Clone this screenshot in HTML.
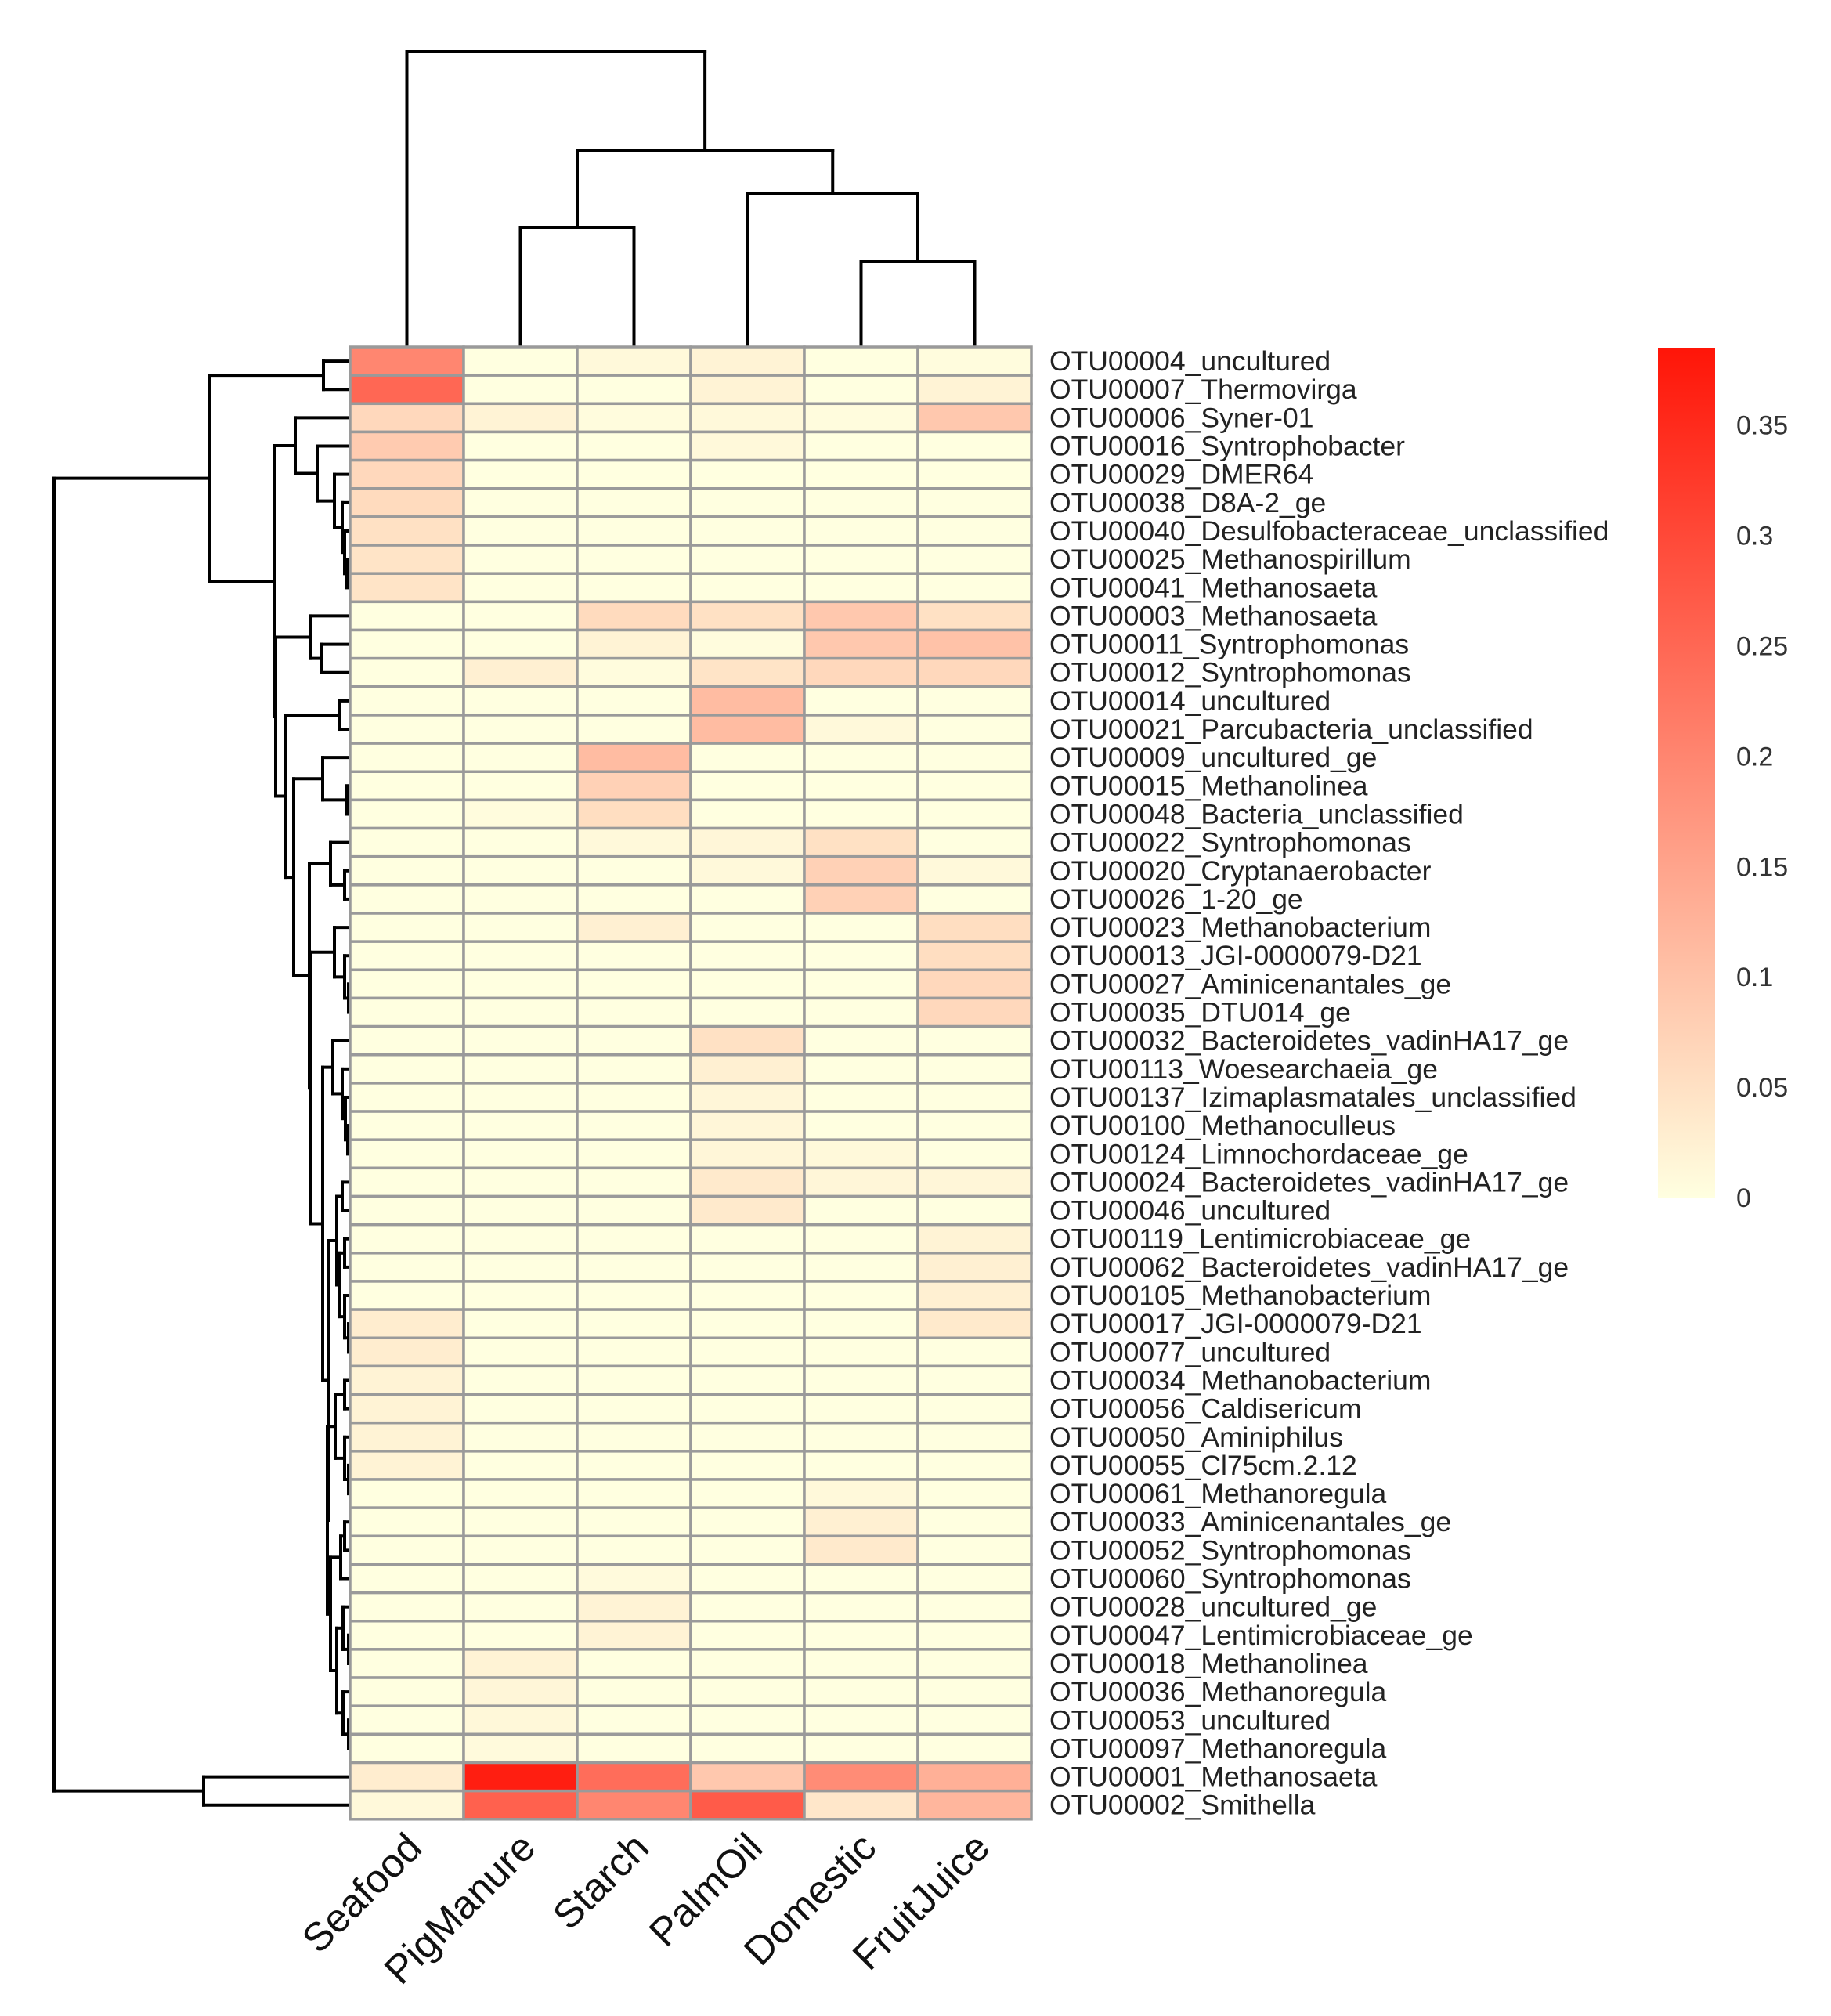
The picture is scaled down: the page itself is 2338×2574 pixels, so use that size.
<!DOCTYPE html>
<html><head><meta charset="utf-8"><style>
html,body{margin:0;padding:0;background:#fff;}
svg{display:block;font-family:"Liberation Sans",Arial,sans-serif;}
</style></head><body>
<svg id="chart" width="2338" height="2574" viewBox="0 0 2338 2574" xmlns="http://www.w3.org/2000/svg">
<defs><linearGradient id="cbgrad" x1="0" y1="1" x2="0" y2="0"><stop offset="0" stop-color="#FFFFE0"/><stop id="cbtop" offset="1" stop-color="#FF1500"/></linearGradient></defs>
<g id="row-dendro"></g>
<g id="col-dendro"></g>
<g id="cells"></g>
<g id="rowlabels"></g>
<g id="collabels"></g>
<g id="colorbar"></g>
</svg>
<script>
const rowNames = ["OTU00004_uncultured","OTU00007_Thermovirga","OTU00006_Syner-01","OTU00016_Syntrophobacter","OTU00029_DMER64","OTU00038_D8A-2_ge","OTU00040_Desulfobacteraceae_unclassified","OTU00025_Methanospirillum","OTU00041_Methanosaeta","OTU00003_Methanosaeta","OTU00011_Syntrophomonas","OTU00012_Syntrophomonas","OTU00014_uncultured","OTU00021_Parcubacteria_unclassified","OTU00009_uncultured_ge","OTU00015_Methanolinea","OTU00048_Bacteria_unclassified","OTU00022_Syntrophomonas","OTU00020_Cryptanaerobacter","OTU00026_1-20_ge","OTU00023_Methanobacterium","OTU00013_JGI-0000079-D21","OTU00027_Aminicenantales_ge","OTU00035_DTU014_ge","OTU00032_Bacteroidetes_vadinHA17_ge","OTU00113_Woesearchaeia_ge","OTU00137_Izimaplasmatales_unclassified","OTU00100_Methanoculleus","OTU00124_Limnochordaceae_ge","OTU00024_Bacteroidetes_vadinHA17_ge","OTU00046_uncultured","OTU00119_Lentimicrobiaceae_ge","OTU00062_Bacteroidetes_vadinHA17_ge","OTU00105_Methanobacterium","OTU00017_JGI-0000079-D21","OTU00077_uncultured","OTU00034_Methanobacterium","OTU00056_Caldisericum","OTU00050_Aminiphilus","OTU00055_Cl75cm.2.12","OTU00061_Methanoregula","OTU00033_Aminicenantales_ge","OTU00052_Syntrophomonas","OTU00060_Syntrophomonas","OTU00028_uncultured_ge","OTU00047_Lentimicrobiaceae_ge","OTU00018_Methanolinea","OTU00036_Methanoregula","OTU00053_uncultured","OTU00097_Methanoregula","OTU00001_Methanosaeta","OTU00002_Smithella"];
const colNames = ["Seafood","PigManure","Starch","PalmOil","Domestic","FruitJuice"];
const seafood   = [0.2,0.25,0.065,0.085,0.065,0.06,0.05,0.045,0.045,0,0,0,0,0,0,0,0,0,0,0,0,0,0,0,0,0,0,0,0,0,0,0,0,0,0.03,0.03,0.02,0.02,0.02,0.02,0,0,0,0,0,0,0,0,0,0,0.03,0.01];
const pigmanure = [0,0,0.02,0,0,0,0,0,0,0,0,0.025,0,0,0,0,0.005,0,0,0,0,0,0,0,0,0,0,0,0,0,0,0,0,0,0,0,0,0,0,0,0,0,0,0,0,0,0.02,0.015,0.012,0.008,0.37,0.26];
const starch    = [0.01,0,0.005,0,0,0,0,0,0,0.06,0.02,0.005,0,0,0.11,0.075,0.055,0.01,0,0,0.025,0,0,0,0,0,0,0,0,0,0,0,0,0,0,0,0,0,0,0,0,0,0,0.008,0.02,0.02,0,0,0,0,0.24,0.2];
const palmoil   = [0.02,0.02,0.01,0.01,0,0,0,0,0,0.05,0.005,0.045,0.11,0.11,0,0,0,0.015,0.01,0,0,0,0,0,0.05,0.025,0.015,0.015,0.015,0.035,0.035,0,0,0,0,0,0,0,0,0,0,0,0,0,0,0,0,0,0,0,0.09,0.27];
const domestic  = [0,0,0.005,0,0,0,0,0,0,0.09,0.09,0.065,0,0.01,0,0,0,0.05,0.075,0.075,0,0,0,0,0,0,0,0,0.01,0.015,0,0,0,0,0,0,0,0,0,0,0.01,0.025,0.035,0,0,0,0,0,0,0,0.19,0.04];
const fruitjuice= [0.005,0.02,0.09,0,0,0,0,0,0,0.05,0.1,0.065,0,0,0,0,0,0,0.01,0,0.055,0.055,0.065,0.065,0,0,0,0,0,0.015,0,0.02,0.025,0.025,0.035,0,0,0,0,0,0,0,0,0,0,0,0,0,0,0,0.13,0.12];
const legendTicks = [0,0.05,0.1,0.15,0.2,0.25,0.3,0.35];
const legendTickLabels = ["0","0.05","0.1","0.15","0.2","0.25","0.3","0.35"];
const rowTree = [69,[267,[413,0,1],[350,[377,2,[405,3,[427,4,[437,5,[440,6,[443,7,8]]]]]],[352,[397,9,[410,10,11]],[365,[433,12,13],[375,[412,14,[443,15,16]],[395,[422,17,[440,18,19]],[397,[427,20,[440,21,[445,22,23]]],[412,[425,24,[437,25,[441,26,[444,27,28]]]],[420,[430,[437,29,30],[433,[440,31,32],[440,33,[445,34,35]]]],[418,[428,[440,36,37],[440,38,[445,39,40]]],[422,[435,[440,41,42],43],[430,[438,44,[445,45,46]],[438,47,[445,48,49]]]]]]]]]]]]]],[260,50,51]];
const colTree = [66,0,[192,[291,1,2],[247,3,[334,4,5]]]];

const NS="http://www.w3.org/2000/svg";
const X0=447, Y0=443, CW=145, RH=36.15, VMAX=0.40;
const series=[seafood,pigmanure,starch,palmoil,domestic,fruitjuice];
const nR=rowNames.length, nC=colNames.length;
const xCol=j=>X0+CW*j, yRow=i=>Y0+RH*i;
const LB=2117, LT=444, LBot=1529, LW=73, LMAX=0.385;
const yLeg=v=>LBot-(v/LMAX)*(LBot-LT);
function color(v){const t=Math.max(0,Math.min(1,v/VMAX));return `rgb(255,${Math.round(255*(1-t)+12*t)},${Math.round(224*(1-t))})`;}
function mk(tag,attrs,parent){const e=document.createElementNS(NS,tag);for(const k in attrs)e.setAttribute(k,attrs[k]);parent.appendChild(e);return e;}
function line(p,x1,y1,x2,y2){const l=mk('line',{x1,y1,x2,y2,stroke:'#000','stroke-width':4,'stroke-linecap':'square'},p);return l;}

const gCells=document.getElementById('cells');
for(let j=0;j<nC;j++)for(let i=0;i<nR;i++){
  const r=mk('rect',{x:xCol(j),y:yRow(i),width:CW,height:RH,fill:color(series[j][i]),stroke:'#9a9a9a','stroke-width':3.5},gCells);
  
  
}
const gRL=document.getElementById('rowlabels');
rowNames.forEach((n,i)=>{const t=mk('text',{x:1340,y:yRow(i)+RH/2+12,'font-size':35.5,fill:'#222'},gRL);t.textContent=n;
  
  });
const gCL=document.getElementById('collabels');
colNames.forEach((n,j)=>{const cx=xCol(j)+CW/2+22, cy=2362;
  const t=mk('text',{x:cx,y:cy,'font-size':51,fill:'#111','text-anchor':'end',transform:`rotate(-45 ${cx} ${cy})`},gCL);t.textContent=n;
  
  });

const gRD=document.getElementById('row-dendro');
function drawRow(node){ if(typeof node==='number') return {x:X0,y:yRow(node)+RH/2};
  const a=drawRow(node[1]), b=drawRow(node[2]), x=node[0];
  line(gRD,x,a.y,x,b.y); line(gRD,x,a.y,a.x,a.y); line(gRD,x,b.y,b.x,b.y);
  return {x,y:(a.y+b.y)/2};}
drawRow(rowTree);
const gCD=document.getElementById('col-dendro');
function drawCol(node){ if(typeof node==='number') return {x:xCol(node)+CW/2,y:Y0};
  const a=drawCol(node[1]), b=drawCol(node[2]), y=node[0];
  line(gCD,a.x,y,b.x,y); line(gCD,a.x,y,a.x,a.y); line(gCD,b.x,y,b.x,b.y);
  return {x:(a.x+b.x)/2,y};}
drawCol(colTree);

const gCB=document.getElementById('colorbar');
document.getElementById('cbtop').setAttribute('stop-color',color(LMAX));
const bar=mk('rect',{x:LB,y:LT,width:LW,height:LBot-LT,fill:'url(#cbgrad)'},gCB);


legendTicks.forEach((v,k)=>{const t=mk('text',{x:2217,y:yLeg(v)+12,'font-size':34,fill:'#333'},gCB);t.textContent=legendTickLabels[k];
  
  });
</script>
</body></html>
